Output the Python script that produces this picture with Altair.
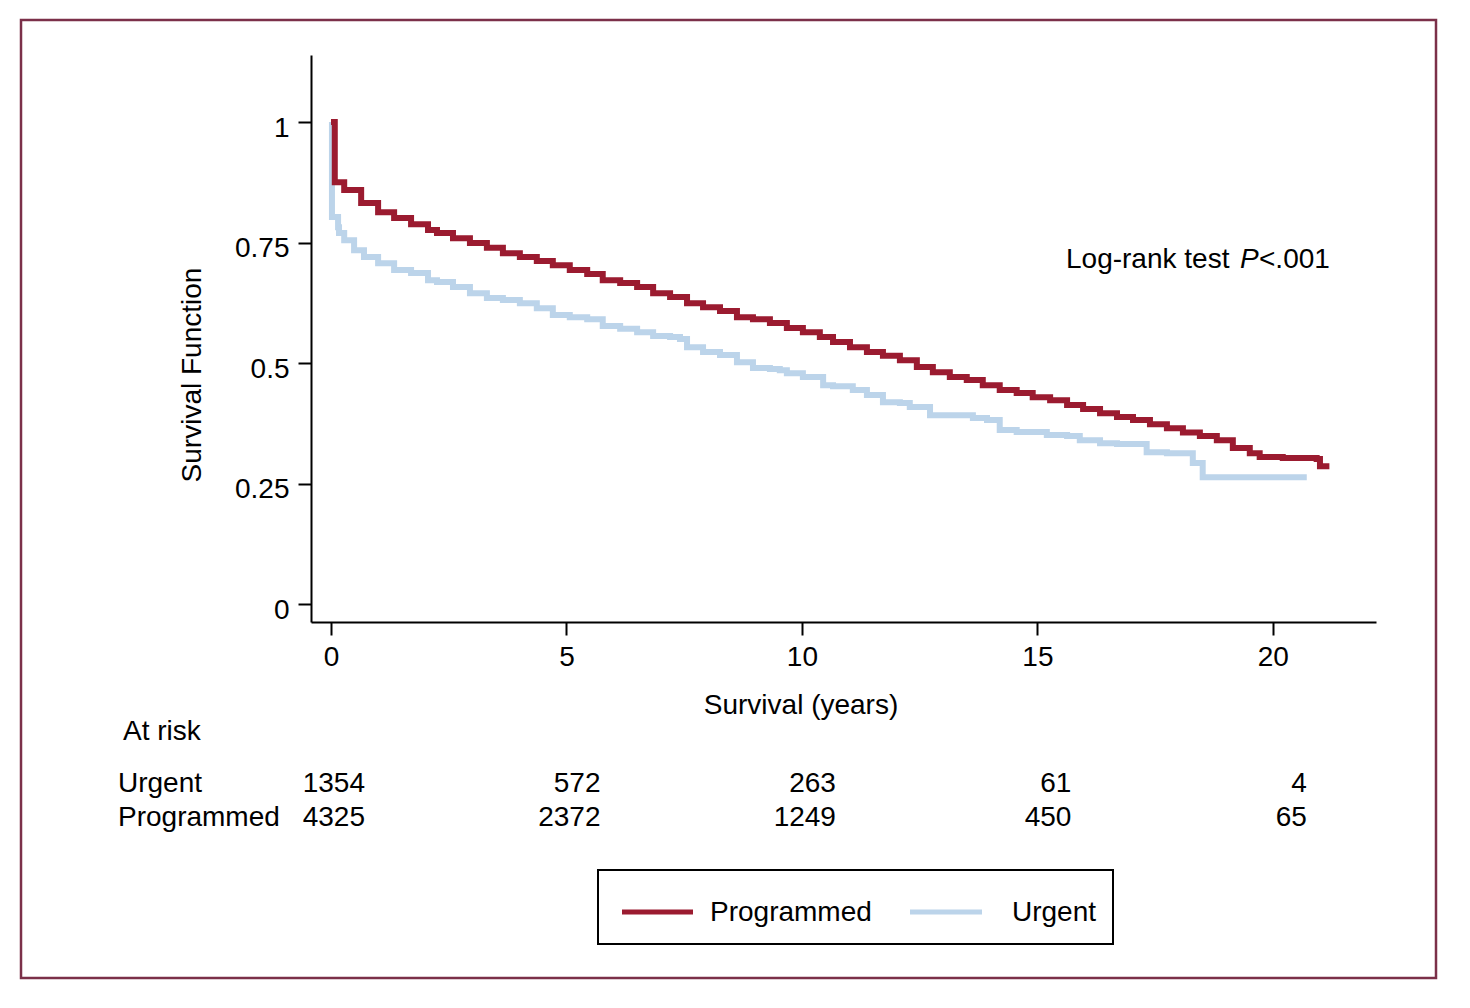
import altair as alt
import pandas as pd

# ---------------- data ----------------
red_time = [0, 0.08, 0.28, 0.64, 1.00, 1.34, 1.70, 2.06, 2.25, 2.59, 2.95, 3.31, 3.65, 4.01, 4.37,
            4.71, 5.07, 5.44, 5.77, 6.14, 6.50, 6.84, 7.20, 7.56, 7.90, 8.26, 8.62, 8.96, 9.32,
            9.68, 10.02, 10.38, 10.66, 11.02, 11.38, 11.72, 12.08, 12.44, 12.78, 13.14, 13.50,
            13.84, 14.20, 14.56, 14.90, 15.27, 15.63, 15.97, 16.33, 16.69, 17.03, 17.39, 17.75,
            18.09, 18.45, 18.81, 19.15, 19.51, 19.72, 20.21, 20.93, 21.00, 21.20]
red_surv = [1.000, 0.875, 0.859, 0.832, 0.813, 0.801, 0.788, 0.776, 0.770, 0.759, 0.749, 0.739, 0.728,
            0.720, 0.712, 0.703, 0.693, 0.685, 0.672, 0.666, 0.658, 0.645, 0.637, 0.624, 0.616,
            0.608, 0.595, 0.591, 0.583, 0.573, 0.564, 0.554, 0.544, 0.533, 0.523, 0.515, 0.506,
            0.492, 0.481, 0.471, 0.465, 0.454, 0.444, 0.438, 0.429, 0.423, 0.413, 0.405, 0.396,
            0.388, 0.382, 0.373, 0.365, 0.356, 0.349, 0.340, 0.324, 0.313, 0.305, 0.303, 0.301,
            0.286, 0.286]

blue_time = [0, 0.02, 0.15, 0.17, 0.28, 0.49, 0.70, 1.00, 1.34, 1.70, 2.06, 2.25, 2.59, 2.95, 3.31,
             3.65, 4.01, 4.37, 4.71, 5.07, 5.44, 5.77, 6.14, 6.50, 6.84, 7.20, 7.41, 7.56, 7.90,
             8.26, 8.62, 8.96, 9.32, 9.53, 9.68, 10.02, 10.45, 10.66, 11.08, 11.38, 11.72, 12.08,
             12.29, 12.72, 13.63, 13.93, 14.20, 14.56, 15.20, 15.63, 15.90, 16.33, 16.69, 17.32,
             17.75, 18.30, 18.51, 20.72]
blue_surv = [1.000, 0.803, 0.782, 0.770, 0.755, 0.734, 0.720, 0.707, 0.693, 0.687, 0.672, 0.668,
             0.658, 0.645, 0.635, 0.631, 0.624, 0.614, 0.600, 0.595, 0.591, 0.577, 0.571, 0.564,
             0.556, 0.554, 0.550, 0.533, 0.523, 0.517, 0.502, 0.490, 0.488, 0.485, 0.479, 0.471,
             0.454, 0.452, 0.444, 0.434, 0.419, 0.417, 0.409, 0.392, 0.386, 0.382, 0.361, 0.357,
             0.351, 0.349, 0.340, 0.334, 0.332, 0.315, 0.313, 0.293, 0.263, 0.263]

risk_years = [0, 5, 10, 15, 20]
risk_urgent = [1354, 572, 263, 61, 4]
risk_programmed = [4325, 2372, 1249, 450, 65]

x_ticks = [0, 5, 10, 15, 20]
y_ticks = [0, 0.25, 0.5, 0.75, 1]

# ---------------- styles ----------------
FONT = "Liberation Sans, Arial, Helvetica, sans-serif"
FS = 28
RED = "#9b1b30"
BLUE = "#bcd4ea"
FRAME = "#7b3049"
W, H = 1065, 567

xscale = alt.Scale(domain=[-0.425, 22.19], nice=False, zero=False)
yscale = alt.Scale(domain=[-0.037, 1.139], nice=False, zero=False)

xaxis = alt.Axis(values=x_ticks, title=None, grid=False, domainColor="black", domainWidth=2,
                 tickColor="black", tickWidth=2, tickSize=13, labelFont=FONT, labelFontSize=FS,
                 labelColor="black", labelPadding=8, labelFlush=False, format="d")
yaxis = alt.Axis(values=y_ticks, title=None, grid=False, domainColor="black", domainWidth=2,
                 tickColor="black", tickWidth=2, tickSize=13, labelFont=FONT, labelFontSize=FS,
                 labelColor="black", labelPadding=9, labelOffset=6, format=".2~f", labelFlush=False)


def X(field):
    return alt.X(field, scale=xscale, axis=xaxis)


def Y(field):
    return alt.Y(field, scale=yscale, axis=yaxis)


df_red = pd.DataFrame({"t": red_time, "s": red_surv})
df_blue = pd.DataFrame({"t": blue_time, "s": blue_surv})
df_risk_u = pd.DataFrame({"t": risk_years, "n": [str(v) for v in risk_urgent]})
df_risk_p = pd.DataFrame({"t": risk_years, "n": [str(v) for v in risk_programmed]})
one = pd.DataFrame({"k": [0]})

blue_line = alt.Chart(df_blue).mark_line(
    interpolate="step-after", color=BLUE, strokeWidth=6, strokeCap="butt", strokeJoin="miter"
).encode(x=X("t:Q"), y=Y("s:Q"))

red_line = alt.Chart(df_red).mark_line(
    interpolate="step-after", color=RED, strokeWidth=6, strokeCap="butt", strokeJoin="miter"
).encode(x=X("t:Q"), y=Y("s:Q"))

txt = dict(font=FONT, fontSize=FS, color="black")

risk_u = alt.Chart(df_risk_u).mark_text(align="right", baseline="alphabetic", dx=34, **txt).encode(
    x=X("t:Q"), y=alt.value(737), text="n:N")
risk_p = alt.Chart(df_risk_p).mark_text(align="right", baseline="alphabetic", dx=34, **txt).encode(
    x=X("t:Q"), y=alt.value(771), text="n:N")


def label(s, x, y, align="left", **kw):
    opts = dict(txt)
    opts.update(kw)
    return alt.Chart(one).mark_text(text=s, align=align, baseline="alphabetic", **opts).encode(
        x=alt.value(x), y=alt.value(y))


at_risk = label("At risk", -188, 685)
lab_u = label("Urgent", -193, 737)
lab_p = label("Programmed", -193, 771)

x_title = label("Survival (years)", 490, 659, align="center")
y_title = alt.Chart(one).mark_text(text="Survival Function", angle=270, align="center",
                                   baseline="middle", **txt).encode(
    x=alt.value(-118), y=alt.value(320))

lr1 = label("Log-rank test", 755, 213)
lr2 = label("P", 929, 213, fontStyle="italic")
lr3 = label("<.001", 948, 213)

frame = alt.Chart(one).mark_rect(fillOpacity=0, stroke=FRAME, strokeWidth=2.5).encode(
    x=alt.value(-290), x2=alt.value(1125), y=alt.value(-35), y2=alt.value(923))

leg_box = alt.Chart(one).mark_rect(fillOpacity=0, stroke="black", strokeWidth=2).encode(
    x=alt.value(287), x2=alt.value(802), y=alt.value(815), y2=alt.value(889))
leg_red = alt.Chart(one).mark_rule(color=RED, strokeWidth=5).encode(
    x=alt.value(311), x2=alt.value(382), y=alt.value(857))
leg_blue = alt.Chart(one).mark_rule(color=BLUE, strokeWidth=5).encode(
    x=alt.value(599), x2=alt.value(671), y=alt.value(857))
leg_t1 = label("Programmed", 399, 866)
leg_t2 = label("Urgent", 701, 866)

chart = alt.layer(
    blue_line, red_line, risk_u, risk_p, at_risk, lab_u, lab_p, x_title, y_title,
    lr1, lr2, lr3, frame, leg_box, leg_red, leg_blue, leg_t1, leg_t2
).properties(
    width=W, height=H, autosize="none",
    padding={"left": 303, "top": 47, "right": 66, "bottom": 362},
    background="white"
).configure_view(stroke=None)

chart.save("out.html", embed_options={"renderer": "svg", "actions": False})
